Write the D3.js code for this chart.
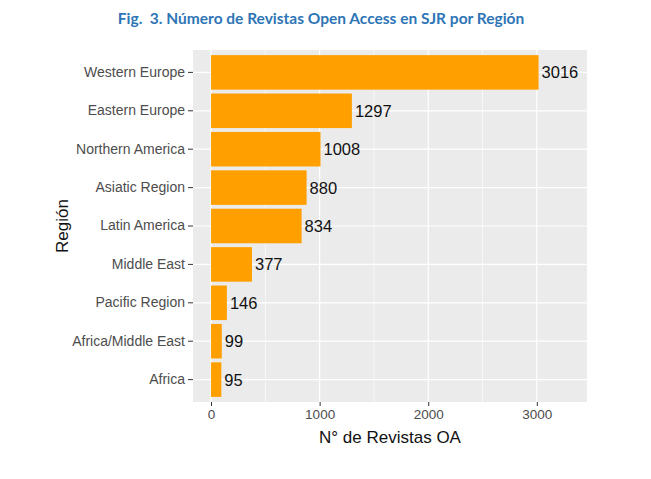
<!DOCTYPE html>
<html>
<head>
<meta charset="utf-8">
<script src="https://cdn.jsdelivr.net/npm/d3@7"></script>
<style>
  body { margin: 0; background: #fff; }
</style>
</head>
<body>
<div id="chart"></div>
<script>
const regions = ["Western Europe", "Eastern Europe", "Northern America", "Asiatic Region",
  "Latin America", "Middle East", "Pacific Region", "Africa/Middle East", "Africa"];
const counts = [3016, 1297, 1008, 880, 834, 377, 146, 99, 95];
const xTicks = [0, 1000, 2000, 3000];
const xMinor = [500, 1500, 2500];

const width = 651, height = 479;
const pLeft = 193, pRight = 587, pTop = 50, pBottom = 402;

const svg = d3.select("#chart").append("svg")
  .attr("width", width)
  .attr("height", height);

svg.append("text")
  .attr("x", 321).attr("y", 24)
  .attr("text-anchor", "middle")
  .attr("font-family", "Lato, 'Open Sans', sans-serif")
  .attr("font-weight", "bold")
  .attr("font-size", 15.5)
  .attr("fill", "#2E75B6")
  .text("Fig.\u00a0 3. Número de Revistas Open Access en SJR por Región");

const x = d3.scaleLinear().domain([-166, 3462]).range([pLeft, pRight]);
const y = d3.scaleBand().domain(regions).range([pTop, pBottom]).paddingInner(0.1).paddingOuter(0.133);

svg.append("rect")
  .attr("x", pLeft).attr("y", pTop)
  .attr("width", pRight - pLeft).attr("height", pBottom - pTop)
  .attr("fill", "#EBEBEB");

// minor grid
svg.append("g").selectAll("line").data(xMinor).join("line")
  .attr("x1", d => x(d)).attr("x2", d => x(d))
  .attr("y1", pTop).attr("y2", pBottom)
  .attr("stroke", "#fff").attr("stroke-width", 0.6);

// major grid
svg.append("g").selectAll("line").data(xTicks).join("line")
  .attr("x1", d => x(d)).attr("x2", d => x(d))
  .attr("y1", pTop).attr("y2", pBottom)
  .attr("stroke", "#fff").attr("stroke-width", 1.2);

svg.append("g").selectAll("line").data(regions).join("line")
  .attr("x1", pLeft).attr("x2", pRight)
  .attr("y1", d => y(d) + y.bandwidth() / 2).attr("y2", d => y(d) + y.bandwidth() / 2)
  .attr("stroke", "#fff").attr("stroke-width", 1.2);

// bars
svg.append("g").selectAll("rect").data(regions).join("rect")
  .attr("x", x(0))
  .attr("y", d => y(d))
  .attr("width", (d, i) => x(counts[i]) - x(0))
  .attr("height", y.bandwidth())
  .attr("fill", "#FFA000");

svg.append("g")
  .attr("font-family", "'Liberation Sans', Arial, sans-serif")
  .attr("font-size", 16.5)
  .attr("fill", "#111")
  .selectAll("text").data(regions).join("text")
  .attr("x", (d, i) => x(counts[i]) + 3)
  .attr("y", d => y(d) + y.bandwidth() / 2)
  .attr("dy", "0.36em")
  .text((d, i) => counts[i]);

// axes
const yAxis = svg.append("g")
  .attr("transform", `translate(${pLeft},0)`)
  .call(d3.axisLeft(y).tickSize(5).tickPadding(3));
yAxis.select(".domain").remove();
yAxis.selectAll("line").attr("stroke", "#333");
yAxis.selectAll("text")
  .attr("font-family", "'Liberation Sans', Arial, sans-serif")
  .attr("font-size", 14)
  .attr("fill", "#4D4D4D");

const xAxis = svg.append("g")
  .attr("transform", `translate(0,${pBottom})`)
  .call(d3.axisBottom(x).tickValues(xTicks).tickFormat(d3.format("d")).tickSize(4).tickPadding(3));
xAxis.select(".domain").remove();
xAxis.selectAll("line").attr("stroke", "#333");
xAxis.selectAll("text")
  .attr("font-family", "'Liberation Sans', Arial, sans-serif")
  .attr("font-size", 13.5)
  .attr("fill", "#4D4D4D");

svg.append("text")
  .attr("x", (pLeft + pRight) / 2).attr("y", 443)
  .attr("text-anchor", "middle")
  .attr("font-family", "'Liberation Sans', Arial, sans-serif")
  .attr("font-size", 17)
  .attr("fill", "#111")
  .text("N° de Revistas OA");

svg.append("text")
  .attr("transform", `translate(68,${(pTop + pBottom) / 2}) rotate(-90)`)
  .attr("text-anchor", "middle")
  .attr("font-family", "'Liberation Sans', Arial, sans-serif")
  .attr("font-size", 17)
  .attr("fill", "#111")
  .text("Región");
</script>
</body>
</html>
